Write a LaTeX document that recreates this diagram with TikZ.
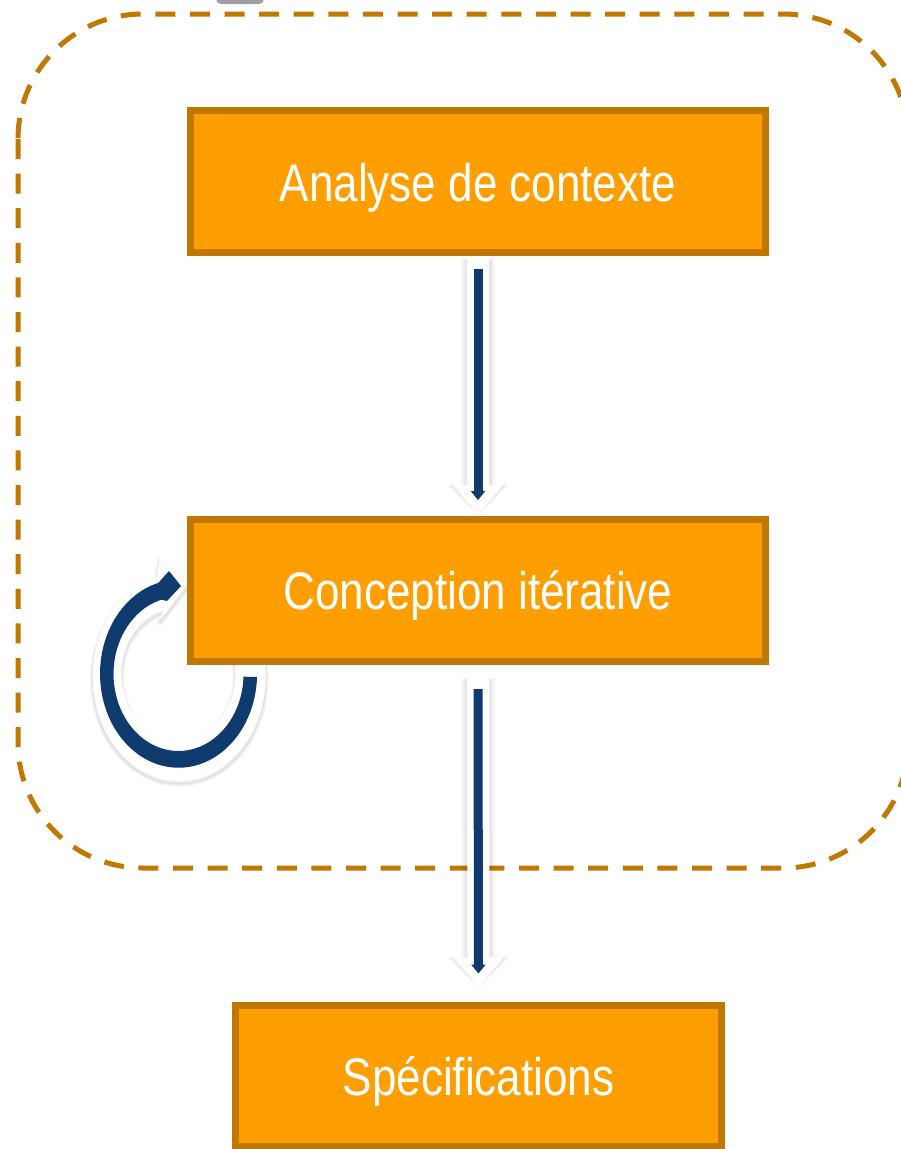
\documentclass[tikz,border=0pt]{standalone}
\usepackage{fontspec}
\setmainfont{Liberation Sans}
\usetikzlibrary{arrows.meta,calc}
\definecolor{boxfill}{HTML}{FF9E00}
\definecolor{boxedge}{HTML}{C07800}
\definecolor{navy}{HTML}{0F3A6E}
\tikzset{
  x=1pt,y=-1pt,
  procbox/.style={draw=boxedge,fill=boxfill,line width=7pt,outer sep=0pt,inner sep=0pt,
    minimum width=575pt,minimum height=142pt,text=white,
    font=\fontsize{44}{50}\selectfont},
  halo/.style={draw=white,line width=22pt,-{Triangle[length=30pt,width=48pt]}},
  haloshadow/.style={draw=black,opacity=.03,-{Triangle[length=30pt,width=#1pt]},line width=#1pt-26pt},
  core/.style={draw=navy,line width=9pt,-{Triangle[length=9pt,width=14pt]}},
  group/.style={draw=boxedge,line width=5pt,dash pattern=on 20pt off 14.6pt,rounded corners=125pt},
}
\newcommand{\tallText}[1]{\raisebox{-6pt}[\height][\depth]{\scalebox{1}[1.2]{#1}}}
\newcommand{\loopHaloPath}{(265,664) arc[start angle=-7,end angle=255,x radius=86.5,y radius=104] -- (160,557) -- (187,585) -- (160,620) -- (163.7,610) arc[start angle=255,end angle=-10,x radius=57,y radius=66] -- cycle}
\begin{document}
\begin{tikzpicture}
\useasboundingbox (0,0) rectangle (900,1149);
\fill[white] (0,0) rectangle (900,1149);
\fill[black!38,rounded corners=5pt] (216,-10) rectangle (264,4);
\draw[group] (18,14) rectangle (908,868);

\begin{scope}[yshift=-3pt]
  \foreach \w in {0.1,1.5,3,4.5,6}{
    \draw[black,opacity=.028,line width=\w pt,line join=round] \loopHaloPath;
  }
\end{scope}
\fill[white] \loopHaloPath;
\fill[navy] (257,677) arc[start angle=2,end angle=255,x radius=78.5,y radius=94]
  -- (169,571) -- (181,586) -- (167,601) -- (161.7,599.6)
  arc[start angle=255,end angle=2,x radius=65,y radius=77] -- cycle;

\node[procbox] (a) at (478,181.5) {\tallText{Analyse de contexte}};
\node[procbox] (b) at (478,590) {\tallText{Conception itérative}};
\node[procbox,minimum width=486pt,minimum height=140.5pt] (c) at (478.5,1075.75) {\tallText{Spécifications}};

\foreach \src/\dst/\sa/\sb/\ca/\cb in {a/b/6/4/16/19,b/c/18/18/28/32}{
  \foreach \w in {34,30,27}{
    \draw[haloshadow=\w+26,shorten <=\sa pt,shorten >=\sb pt,yshift=-2pt] (\src.south) -- (\dst.north);
  }
  \draw[halo,shorten <=\sa pt,shorten >=\sb pt] (\src.south) -- (\dst.north);
  \draw[core,shorten <=\ca pt,shorten >=\cb pt] (\src.south) -- (\dst.north);
}
\end{tikzpicture}
\end{document}
